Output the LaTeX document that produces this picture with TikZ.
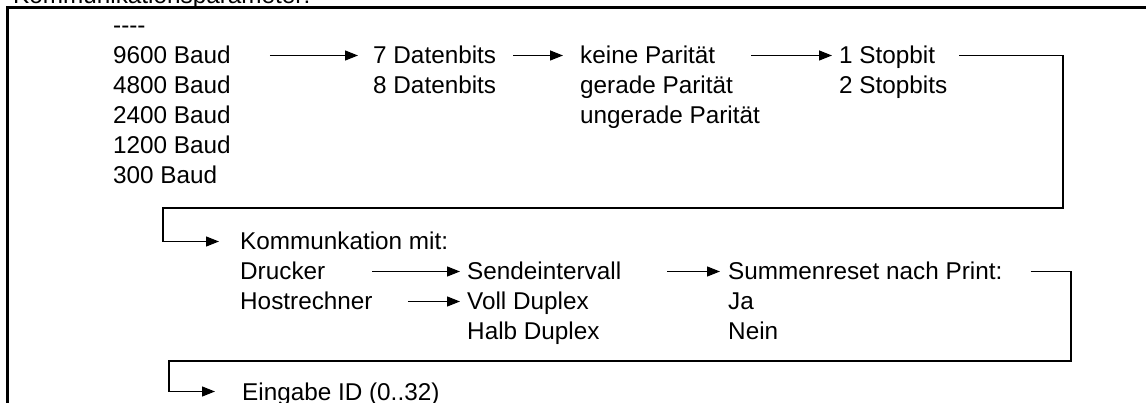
\documentclass[tikz,border=0pt]{standalone}
\usepackage{fontspec}
\setmainfont{Liberation Sans}
\usetikzlibrary{arrows.meta}

\tikzset{
  lbl/.style={anchor=base west, inner sep=0pt, text height=17pt, text depth=0pt,
              font=\fontsize{24.3}{30}\selectfont},
  conn/.style={line width=1.4pt, -{Triangle[length=13pt,width=10pt]}},
  frame/.style={line width=3pt},
}

\begin{document}
\begin{tikzpicture}[x=1pt, y=-1pt]
  \useasboundingbox (0,0) rectangle (1146,403);
  \clip (0,0) rectangle (1146,403);

  % heading and frame
  \node[lbl] (title) at (13,4) {Kommunikationsparameter:};
  \draw[frame] (7.5,410) -- (7.5,8) -- (1150,8);

  % baud rate, data bits, parity, stop bits
  \node[lbl] (dash)  at (113,34)  {{-}{-}{-}{-}};
  \node[lbl] (b9600) at (113,64)  {9600 Baud};
  \node[lbl] (b4800) at (113,94)  {4800 Baud};
  \node[lbl] (b2400) at (113,124) {2400 Baud};
  \node[lbl] (b1200) at (113,154) {1200 Baud};
  \node[lbl] (b300)  at (113,184) {300 Baud};

  \node[lbl] (d7) at (373,64) {7 Datenbits};
  \node[lbl] (d8) at (373,94) {8 Datenbits};

  \node[lbl] (pk) at (580,64)  {keine Parität};
  \node[lbl] (pg) at (580,94)  {gerade Parität};
  \node[lbl] (pu) at (580,124) {ungerade Parität};

  \node[lbl] (s1) at (839,64) {1 Stopbit};
  \node[lbl] (s2) at (839,94) {2 Stopbits};

  % communication partner, duplex mode, total reset
  \node[lbl] (kom)  at (240,250) {Kommunkation mit:};
  \node[lbl] (dru)  at (240,280) {Drucker};
  \node[lbl] (host) at (240,310) {Hostrechner};

  \node[lbl] (send) at (467,280) {Sendeintervall};
  \node[lbl] (voll) at (467,310) {Voll Duplex};
  \node[lbl] (halb) at (467,340) {Halb Duplex};

  \node[lbl] (sum)  at (728,280) {Summenreset nach Print:};
  \node[lbl] (ja)   at (728,310) {Ja};
  \node[lbl] (nein) at (728,340) {Nein};

  % device address
  \node[lbl] (eid) at (242,400) {Eingabe ID (0..32)};

  % corner points of the return lines
  \coordinate (rA) at (1063,208);
  \coordinate (lA) at (163,208);
  \coordinate (rB) at (1071,361);
  \coordinate (lB) at (169,361);

  % connectors
  \draw[conn, shorten <=39pt, shorten >=15pt] (b9600.east) -- (d7.west);
  \draw[conn, shorten <=17pt, shorten >=17pt] (d7.east) -- (pk.west);
  \draw[conn, shorten <=36pt, shorten >=7pt]  (pk.east) -- (s1.west);
  \draw[conn, shorten <=24pt, shorten >=21pt]
    (s1.east) -- (s1.east -| rA) -- (rA) -- (lA) |- (kom.west);

  \draw[conn, shorten <=47pt, shorten >=7pt] (dru.east) -- (send.west);
  \draw[conn, shorten <=35pt, shorten >=7pt] (host.east) -- (voll.west);
  \draw[conn, shorten <=46pt, shorten >=8pt] (send.east) -- (sum.west);
  \draw[conn, shorten <=28pt, shorten >=27pt]
    (sum.east) -- (sum.east -| rB) -- (rB) -- (lB) |- (eid.west);
\end{tikzpicture}
\end{document}
